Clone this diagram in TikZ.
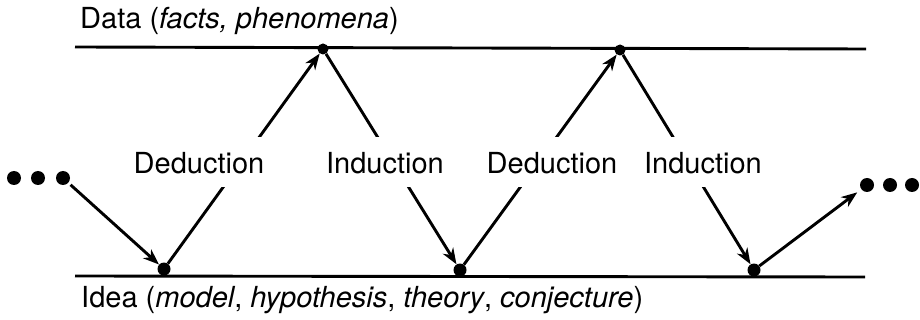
\documentclass[tikz,border=0pt]{standalone}
\usepackage{fontspec}
\setmainfont{TeX Gyre Heros}
\usetikzlibrary{arrows.meta}
\begin{document}
\begin{tikzpicture}[x=1pt,y=-1pt,
  dot/.style={circle,fill=black,inner sep=0pt,minimum size=#1},
  ln/.style={line width=2.9pt},
  arr/.style={ln,-{Stealth[length=16pt,width=12pt,inset=5pt]}},
  lbl/.style={fill=white,inner sep=0pt,inner xsep=2pt,text height=37pt,text depth=13pt,anchor=base,font=\fontsize{29}{34}\selectfont},
  captext/.style={anchor=base west,inner sep=0pt,font=\fontsize{29}{34}\selectfont}]
\useasboundingbox (0,0) rectangle (920,320);
% base lines
\coordinate (tl) at (75,47);
\coordinate (tr) at (866,49);
\coordinate (bl) at (75,276);
\coordinate (br) at (865,277);
\draw[ln] (tl) -- (tr);
\draw[ln] (bl) -- (br);
% dots
\node[dot=14pt] (l1) at (14,178) {};
\node[dot=14pt] (l2) at (38,178) {};
\node[dot=14pt] (l3) at (63,178) {};
\node[dot=14pt] (r1) at (867,185) {};
\node[dot=14pt] (r2) at (890,185) {};
\node[dot=14pt] (r3) at (912,185) {};
\node[dot=11pt] (t1) at (323,49) {};
\node[dot=11pt] (t2) at (620,50) {};
\node[dot=13pt] (b1) at (164,269) {};
\node[dot=13pt] (b2) at (460,270) {};
\node[dot=13pt] (b3) at (754,270) {};
% connectors
\draw[arr, shorten <=3pt] (l3) -- (b1);
\draw[arr] (b1) -- (t1);
\draw[arr] (t1) -- (b2);
\draw[arr] (b2) -- (t2);
\draw[arr] (t2) -- (b3);
\draw[arr, shorten >=5pt] (b3) -- (r1);
% labels
\node[lbl] (d1) at (199,174) {Deduction};
\node[lbl] (i1) at (385,174) {Induction};
\node[lbl] (d2) at (552,174) {Deduction};
\node[lbl] (i2) at (703,174) {Induction};
\node[captext] (data) at (80,29) {Data (\textit{facts, phenomena})};
\node[captext] (idea) at (81,307) {Idea (\textit{model}, \textit{hypothesis}, \textit{theory}, \textit{conjecture})};
\end{tikzpicture}
\end{document}
